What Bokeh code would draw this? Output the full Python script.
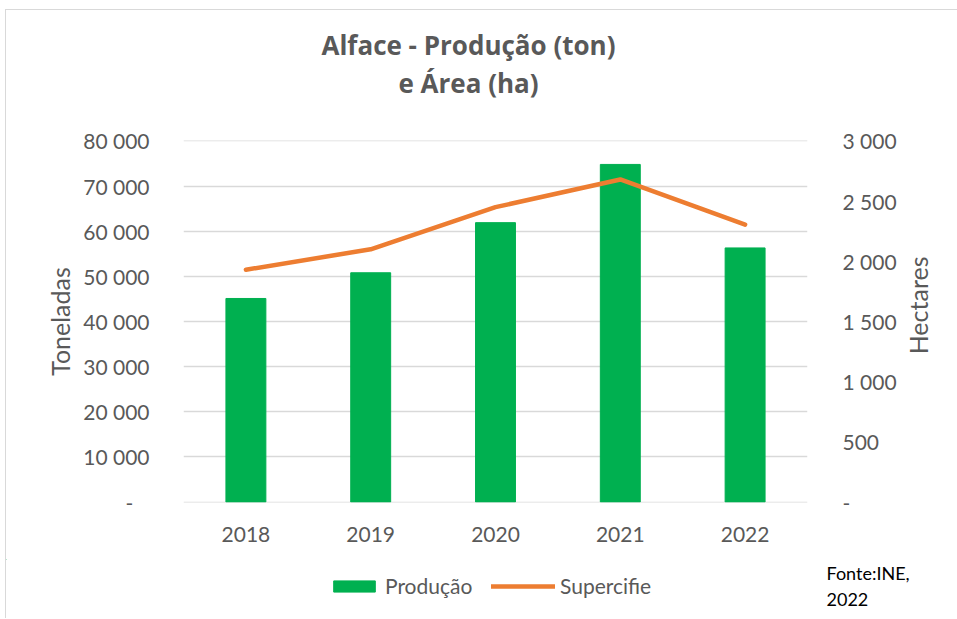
import math
from bokeh.plotting import figure
from bokeh.layouts import column, row
from bokeh.models import (FactorRange, Range1d, LinearAxis, FixedTicker, CustomJSTickFormatter,
                          Legend, LegendItem, Label)
from bokeh.embed import file_html
from bokeh.resources import INLINE

years = ["2018", "2019", "2020", "2021", "2022"]
producao = [45100, 50800, 61900, 74800, 56300]
superficie = [1930, 2100, 2450, 2680, 2305]
left_ticks = [0, 10000, 20000, 30000, 40000, 50000, 60000, 70000, 80000]
right_ticks = [0, 500, 1000, 1500, 2000, 2500, 3000]
title_lines = ["Alface - Produção (ton)", "e Área (ha)"]
source_lines = ["Fonte:INE,", "2022"]

FONT = "Lato"
GREY = "#595959"
GREEN = "#00B050"
ORANGE = "#ED7D31"

OX, OY = 6, 11           # page offset of the layout content
W_ALL = 957 - OX


def blank(width, height, x0, x1, ytop, ybot):
    f = figure(width=width, height=height, x_range=Range1d(x0, x1), y_range=Range1d(ybot, ytop),
               output_backend="svg", toolbar_location=None, x_axis_location=None,
               y_axis_location=None, min_border=0)
    f.title.visible = False
    f.outline_line_color = None
    f.xgrid.visible = False
    f.ygrid.visible = False
    return f

# ---------- title strip ----------
p0 = blank(W_ALL, 121 - OY, OX, 957, OY, 121)
for txt, y in zip(title_lines, [45, 83]):
    p0.add_layout(Label(x=468, y=y, text=txt, text_font="Open Sans", text_font_size="26px",
                        text_font_style="bold", text_color=GREY, text_align="center",
                        text_baseline="middle"))

# ---------- main chart ----------
p = figure(width=903 - OX, height=560 - 121, x_range=FactorRange(*years, range_padding=0),
           y_range=Range1d(-100, 80100), output_backend="svg", toolbar_location=None,
           min_border_left=183 - OX, min_border_right=903 - 807, min_border_top=141 - 121,
           min_border_bottom=560 - 503)
p.extra_y_ranges = {"area": Range1d(-3.75, 3003.75)}
p.outline_line_color = None
p.title.visible = False

fmt_left = CustomJSTickFormatter(code="""
if (tick == 0) { return '-   '; }
return Math.round(tick).toString().replace(/\\B(?=(\\d{3})+(?!\\d))/g, ' ');
""")
fmt_right = CustomJSTickFormatter(code="""
if (tick == 0) { return ' -'; }
return Math.round(tick).toString().replace(/\\B(?=(\\d{3})+(?!\\d))/g, ' ');
""")

bars = p.vbar(x=years, top=producao, width=0.32, color=GREEN)
line = p.line(x=years, y=superficie, y_range_name="area", line_color=ORANGE,
              line_width=4.5, line_cap="round", line_join="round")


def style_axis(ax, label_standoff, axis_standoff):
    ax.axis_line_color = None
    ax.major_tick_line_color = None
    ax.minor_tick_line_color = None
    ax.major_label_standoff = label_standoff
    ax.axis_label_standoff = axis_standoff
    ax.major_label_text_font = FONT
    ax.major_label_text_font_size = "21px"
    ax.major_label_text_color = GREY
    ax.axis_label_text_font = FONT
    ax.axis_label_text_font_size = "25px"
    ax.axis_label_text_font_style = "normal"
    ax.axis_label_text_color = GREY

ya = p.yaxis[0]
ya.ticker = FixedTicker(ticks=left_ticks)
ya.formatter = fmt_left
ya.axis_label = "Toneladas"
style_axis(ya, 28, 5)

ra = LinearAxis(y_range_name="area", ticker=FixedTicker(ticks=right_ticks), formatter=fmt_right)
style_axis(ra, 29, 0)
p.add_layout(ra, "right")

xa = p.xaxis[0]
style_axis(xa, 18, 0)

p.xgrid.grid_line_color = None
p.ygrid.ticker = FixedTicker(ticks=left_ticks)
p.ygrid.grid_line_color = "#d9d9d9"
p.ygrid.grid_line_width = 1.3

# ---------- right strip with the right axis title ----------
pR = blank(957 - 903, 560 - 121, 903, 957, 121, 560)
pR.add_layout(Label(x=917, y=321, text="Hectares", angle=math.pi / 2, text_font=FONT,
                    text_font_size="25px", text_color=GREY, text_align="center",
                    text_baseline="middle"))

# ---------- bottom strip: legend and source ----------
# legend proxies: one point each, placed outside the visible strip
p2 = blank(W_ALL, 619 - 560, OX, 957, 560, 619)
g_bar = p2.vbar(x=[-1000], top=[-1000], bottom=[-1001], width=1, color=GREEN)
g_line = p2.line(x=[-1000, -999], y=[-1000, -1000], line_color=ORANGE, line_width=4.5,
                 line_cap="round")

common = dict(orientation="horizontal", glyph_height=14, label_standoff=5,
              label_text_font=FONT, label_text_font_size="21px", label_text_color=GREY,
              border_line_color=None, background_fill_alpha=0, padding=0, margin=0)
p2.add_layout(Legend(items=[LegendItem(label="Produção", renderers=[g_bar])],
                     location=(328 - OX, 20), glyph_width=52, **common))
p2.add_layout(Legend(items=[LegendItem(label="Supercifie", renderers=[g_line])],
                     location=(491 - OX, 20), glyph_width=64, **common))
for txt, y in zip(source_lines, [573, 600]):
    p2.add_layout(Label(x=826, y=y, text=txt, text_font=FONT, text_font_size="18px",
                        text_color="black", text_align="left", text_baseline="middle"))

layout = column(p0, row(p, pR), p2,
                styles={"margin-left": "5px", "margin-top": "9px",
                        "border-left": "1px solid #d9d9d9", "border-top": "1px solid #d9d9d9"})

open("out.html", "w").write(file_html(layout, INLINE))
